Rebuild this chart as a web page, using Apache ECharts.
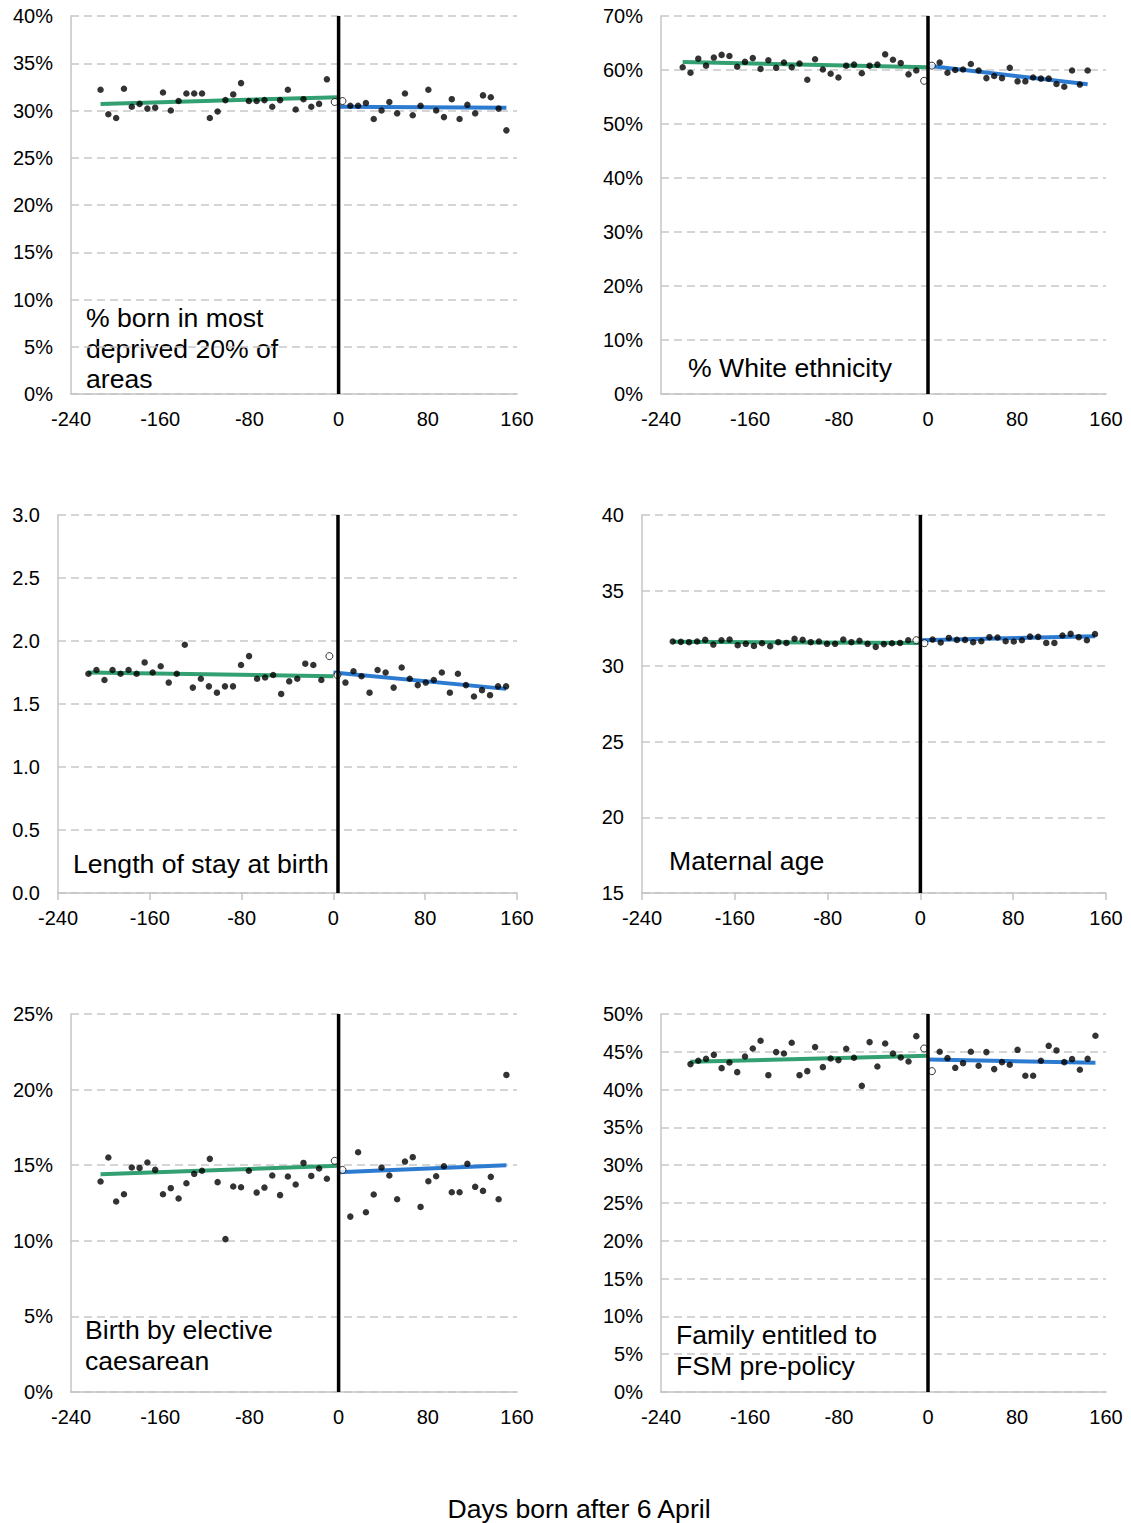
<!DOCTYPE html>
<html>
<head>
<meta charset="utf-8">
<script src="https://cdn.jsdelivr.net/npm/echarts@6/dist/echarts.min.js"></script>
<style>
  html, body { margin: 0; padding: 0; background: #fff; }
  #chart { width: 1131px; height: 1523px; }
</style>
</head>
<body>
<div id="chart"></div>
<script>
// ---- Bin centres (days born after 6 April) ----
const DAYS_PRE = [-220.5, -213.5, -206.5, -199.5, -192.5, -185.5, -178.5, -171.5, -164.5, -157.5,
  -150.5, -143.5, -136.5, -129.5, -122.5, -115.5, -108.5, -101.5, -94.5, -87.5,
  -80.5, -73.5, -66.5, -59.5, -52.5, -45.5, -38.5, -31.5, -24.5, -17.5, -10.5];
const DAYS_OPEN = [-3.5, 3.5];
const DAYS_POST = [10.5, 17.5, 24.5, 31.5, 38.5, 45.5, 52.5, 59.5, 66.5, 73.5, 80.5,
  87.5, 94.5, 101.5, 108.5, 115.5, 122.5, 129.5, 136.5, 143.5, 150.5];
const X_TICKS = [-240, 160, 80]; // min, max, interval

// ---- Panel 1: % born in most deprived 20% of areas ----
const DEPRIVED_PRE = [null, 32.2, 29.6, 29.2, 32.3, 30.4, 30.7, 30.2, 30.3, 31.9, 30.0, 31.0, 31.8, 31.8, 31.8,
  29.2, 29.9, 31.1, 31.7, 32.9, 31.0, 31.0, 31.1, 30.4, 31.1, 32.2, 30.1, 31.2, 30.4, 30.7, 33.3];
const DEPRIVED_OPEN = [30.9, 31.0];
const DEPRIVED_POST = [30.5, 30.5, 30.8, 29.1, 30.0, 30.9, 29.7, 31.8, 29.5, 30.5, 32.2, 30.0, 29.3, 31.2,
  29.1, 30.6, 29.7, 31.6, 31.4, 30.2, 27.9];
const DEPRIVED_FIT_PRE_DAYS = [-213.5, 0], DEPRIVED_FIT_PRE = [30.7, 31.4];
const DEPRIVED_FIT_POST_DAYS = [0, 150.5], DEPRIVED_FIT_POST = [30.4, 30.3];

// ---- Panel 2: % White ethnicity ----
const WHITE_PRE = [60.5, 59.5, 62.1, 60.8, 62.3, 62.8, 62.6, 60.6, 61.5, 62.2, 60.2, 61.8, 60.4, 61.4, 60.5,
  61.2, 58.2, 62.0, 60.1, 59.3, 58.6, 60.8, 61.0, 59.4, 60.8, 61.0, 62.9, 61.9, 61.3, 59.2, 59.9];
const WHITE_OPEN = [58.0, 60.8];
const WHITE_POST = [61.4, 59.5, 60.0, 60.1, 61.1, 59.9, 58.5, 58.9, 58.5, 60.4, 57.9, 57.9, 58.6, 58.4,
  58.4, 57.4, 56.9, 59.9, 57.3, 59.9, null];
const WHITE_FIT_PRE_DAYS = [-220.5, 0], WHITE_FIT_PRE = [61.5, 60.5];
const WHITE_FIT_POST_DAYS = [0, 143.5], WHITE_FIT_POST = [60.8, 57.35];

// ---- Panel 3: Length of stay at birth ----
const STAY_PRE = [null, 1.74, 1.77, 1.69, 1.77, 1.74, 1.77, 1.74, 1.83, 1.75, 1.80, 1.67, 1.74, 1.97, 1.63,
  1.70, 1.64, 1.59, 1.64, 1.64, 1.81, 1.88, 1.70, 1.71, 1.73, 1.58, 1.68, 1.70, 1.82, 1.81, 1.69];
const STAY_OPEN = [1.88, 1.73];
const STAY_POST = [1.67, 1.76, 1.72, 1.59, 1.77, 1.75, 1.63, 1.79, 1.70, 1.65, 1.67, 1.69, 1.75, 1.59,
  1.74, 1.65, 1.56, 1.61, 1.57, 1.64, 1.64];
const STAY_FIT_PRE_DAYS = [-213.5, 0], STAY_FIT_PRE = [1.75, 1.72];
const STAY_FIT_POST_DAYS = [0, 150.5], STAY_FIT_POST = [1.75, 1.62];

// ---- Panel 4: Maternal age ----
const AGE_PRE = [null, 31.63, 31.61, 31.59, 31.63, 31.74, 31.43, 31.72, 31.76, 31.39, 31.48, 31.34, 31.52,
  31.32, 31.59, 31.54, 31.81, 31.74, 31.59, 31.63, 31.48, 31.48, 31.76, 31.59, 31.68, 31.48, 31.28, 31.46,
  31.52, 31.54, 31.72];
const AGE_OPEN = [31.72, 31.52];
const AGE_POST = [31.76, 31.57, 31.87, 31.74, 31.74, 31.59, 31.65, 31.92, 31.90, 31.65, 31.63, 31.72, 31.96,
  31.94, 31.54, 31.54, 32.03, 32.14, 31.92, 31.72, 32.12];
const AGE_FIT_PRE_DAYS = [-213.5, 0], AGE_FIT_PRE = [31.61, 31.54];
const AGE_FIT_POST_DAYS = [0, 150.5], AGE_FIT_POST = [31.72, 31.98];

// ---- Panel 5: Birth by elective caesarean ----
const CAES_PRE = [null, 13.92, 15.51, 12.60, 13.08, 14.85, 14.82, 15.18, 14.69, 13.08, 13.48, 12.80, 13.81,
  14.43, 14.63, 15.42, 13.88, 10.11, 13.59, 13.54, 14.63, 13.19, 13.52, 14.32, 13.02, 14.25, 13.72, 15.15,
  14.29, 14.78, 14.10];
const CAES_OPEN = [15.29, 14.69];
const CAES_POST = [11.60, 15.86, 11.89, 13.06, 14.85, 14.32, 12.75, 15.24, 15.53, 12.24, 13.94, 14.27, 14.93,
  13.21, 13.21, 15.09, 13.57, 13.30, 14.23, 12.75, 20.97];
const CAES_FIT_PRE_DAYS = [-213.5, 0], CAES_FIT_PRE = [14.40, 14.96];
const CAES_FIT_POST_DAYS = [0, 150.5], CAES_FIT_POST = [14.54, 15.0];

// ---- Panel 6: Family entitled to FSM pre-policy ----
const FSM_PRE = [null, 43.37, 43.81, 44.07, 44.60, 42.84, 43.59, 42.31, 44.38, 45.44, 46.46, 41.91, 44.96,
  44.78, 46.19, 41.91, 42.44, 45.62, 42.97, 44.12, 43.90, 45.40, 44.21, 40.50, 46.28, 43.06, 46.10, 44.78,
  44.25, 43.72, 47.07];
const FSM_OPEN = [45.44, 42.44];
const FSM_POST = [45.0, 44.16, 42.88, 43.50, 45.0, 43.15, 44.96, 42.71, 43.63, 43.28, 45.26, 41.83, 41.83,
  43.81, 45.79, 45.18, 43.63, 44.03, 42.62, 44.07, 47.12];
const FSM_FIT_PRE_DAYS = [-213.5, 0], FSM_FIT_PRE = [43.68, 44.47];
const FSM_FIT_POST_DAYS = [0, 150.5], FSM_FIT_POST = [43.99, 43.54];

// ---- Cut-off (policy) line position per panel ----
const CUTOFFS = [0, 0, 4, 0, 0, 0];

// ---- Y axis ranges: [min, max, interval] ----
const Y_DEPRIVED = [0, 40, 5], Y_WHITE = [0, 70, 10], Y_STAY = [0, 3, 0.5];
const Y_AGE = [15, 40, 5], Y_CAES = [0, 25, 5], Y_FSM = [0, 50, 5];

const LABELS = ['% born in most\ndeprived 20% of\nareas', '% White ethnicity', 'Length of stay at birth',
  'Maternal age', 'Birth by elective\ncaesarean', 'Family entitled to\nFSM pre-policy'];
const X_TITLE = 'Days born after 6 April';

// ---------------- Layout / styling ----------------
const FONT = '"Liberation Sans", Arial, sans-serif';
const GREEN = '#33a072';
const BLUE = '#2d7bd0';
const AXIS_GREY = '#c4c4c4';

const panels = [
  { grid: { left: 71, top: 16, width: 446, height: 378 }, y: Y_DEPRIVED, fmt: v => v + '%', ticks: false,
    pre: DEPRIVED_PRE, open: DEPRIVED_OPEN, post: DEPRIVED_POST,
    fpd: DEPRIVED_FIT_PRE_DAYS, fp: DEPRIVED_FIT_PRE, fqd: DEPRIVED_FIT_POST_DAYS, fq: DEPRIVED_FIT_POST,
    label: { x: 86, y: 303 } },
  { grid: { left: 661, top: 16, width: 445, height: 378 }, y: Y_WHITE, fmt: v => v + '%', ticks: false,
    pre: WHITE_PRE, open: WHITE_OPEN, post: WHITE_POST,
    fpd: WHITE_FIT_PRE_DAYS, fp: WHITE_FIT_PRE, fqd: WHITE_FIT_POST_DAYS, fq: WHITE_FIT_POST,
    label: { x: 688, y: 353 } },
  { grid: { left: 58, top: 515, width: 459, height: 378 }, y: Y_STAY, fmt: v => v.toFixed(1), ticks: true,
    pre: STAY_PRE, open: STAY_OPEN, post: STAY_POST,
    fpd: STAY_FIT_PRE_DAYS, fp: STAY_FIT_PRE, fqd: STAY_FIT_POST_DAYS, fq: STAY_FIT_POST,
    label: { x: 73, y: 849 } },
  { grid: { left: 642, top: 515, width: 464, height: 378 }, y: Y_AGE, fmt: v => String(v), ticks: true,
    pre: AGE_PRE, open: AGE_OPEN, post: AGE_POST,
    fpd: AGE_FIT_PRE_DAYS, fp: AGE_FIT_PRE, fqd: AGE_FIT_POST_DAYS, fq: AGE_FIT_POST,
    label: { x: 669, y: 846 } },
  { grid: { left: 71, top: 1014, width: 446, height: 378 }, y: Y_CAES, fmt: v => v + '%', ticks: false,
    pre: CAES_PRE, open: CAES_OPEN, post: CAES_POST,
    fpd: CAES_FIT_PRE_DAYS, fp: CAES_FIT_PRE, fqd: CAES_FIT_POST_DAYS, fq: CAES_FIT_POST,
    label: { x: 85, y: 1315 } },
  { grid: { left: 661, top: 1014, width: 445, height: 378 }, y: Y_FSM, fmt: v => v + '%', ticks: false,
    pre: FSM_PRE, open: FSM_OPEN, post: FSM_POST,
    fpd: FSM_FIT_PRE_DAYS, fp: FSM_FIT_PRE, fqd: FSM_FIT_POST_DAYS, fq: FSM_FIT_POST,
    label: { x: 676, y: 1320 } }
];

const zip = (xs, ys) => xs.map((x, i) => [x, ys[i]]).filter(p => p[1] !== null && p[1] !== undefined);

const grids = [], xAxes = [], yAxes = [], series = [], graphics = [];
panels.forEach((p, i) => {
  grids.push(Object.assign({ containLabel: false }, p.grid));
  xAxes.push({
    type: 'value', gridIndex: i, min: X_TICKS[0], max: X_TICKS[1], interval: X_TICKS[2],
    axisLine: { show: true, onZero: false, lineStyle: { color: AXIS_GREY, width: 1.5 } },
    axisTick: { show: p.ticks, length: 7, lineStyle: { color: AXIS_GREY, width: 1.5 } },
    splitLine: { show: false },
    axisLabel: { color: '#000', fontSize: 20, fontFamily: FONT, margin: 15 }
  });
  yAxes.push({
    type: 'value', gridIndex: i, min: p.y[0], max: p.y[1], interval: p.y[2],
    axisLine: { show: true, onZero: false, lineStyle: { color: AXIS_GREY, width: 1.5 } },
    axisTick: { show: false },
    splitLine: { show: true, lineStyle: { color: '#c8c8c8', width: 1.5, type: [8, 5] } },
    axisLabel: { color: '#000', fontSize: 20, fontFamily: FONT, margin: 18, formatter: p.fmt }
  });
  series.push({
    type: 'line', xAxisIndex: i, yAxisIndex: i, data: zip(p.fpd, p.fp), showSymbol: false,
    lineStyle: { color: GREEN, width: 4 }, z: 2, silent: true
  });
  series.push({
    type: 'line', xAxisIndex: i, yAxisIndex: i, data: zip(p.fqd, p.fq), showSymbol: false,
    lineStyle: { color: BLUE, width: 4 }, z: 2, silent: true
  });
  series.push({
    type: 'scatter', xAxisIndex: i, yAxisIndex: i,
    data: zip(DAYS_PRE, p.pre).concat(zip(DAYS_POST, p.post)),
    symbol: 'circle', symbolSize: 6.5, itemStyle: { color: '#000' }, z: 3, silent: true
  });
  series.push({
    type: 'scatter', xAxisIndex: i, yAxisIndex: i, data: zip(DAYS_OPEN, p.open),
    symbol: 'circle', symbolSize: 7,
    itemStyle: { color: '#fff', borderColor: '#000', borderWidth: 1 }, z: 3, silent: true
  });
  series.push({
    type: 'line', xAxisIndex: i, yAxisIndex: i,
    data: [[CUTOFFS[i], p.y[0]], [CUTOFFS[i], p.y[1]]], showSymbol: false,
    lineStyle: { color: '#000', width: 3.5 }, z: 4, silent: true
  });
  graphics.push({
    type: 'text', left: p.label.x, top: p.label.y,
    style: { text: LABELS[i], font: '26.6px ' + FONT, fill: '#000', lineHeight: 30.5 }
  });
});
graphics.push({
  type: 'text', x: 579, y: 1509,
  style: { text: X_TITLE, font: '26.6px ' + FONT, fill: '#000',
    align: 'center', verticalAlign: 'middle', textAlign: 'center', textVerticalAlign: 'middle' }
});

const chart = echarts.init(document.getElementById('chart'), null, { renderer: 'svg', width: 1131, height: 1523 });
chart.setOption({
  animation: false,
  backgroundColor: '#fff',
  grid: grids,
  xAxis: xAxes,
  yAxis: yAxes,
  series: series,
  graphic: graphics
});
</script>
</body>
</html>
